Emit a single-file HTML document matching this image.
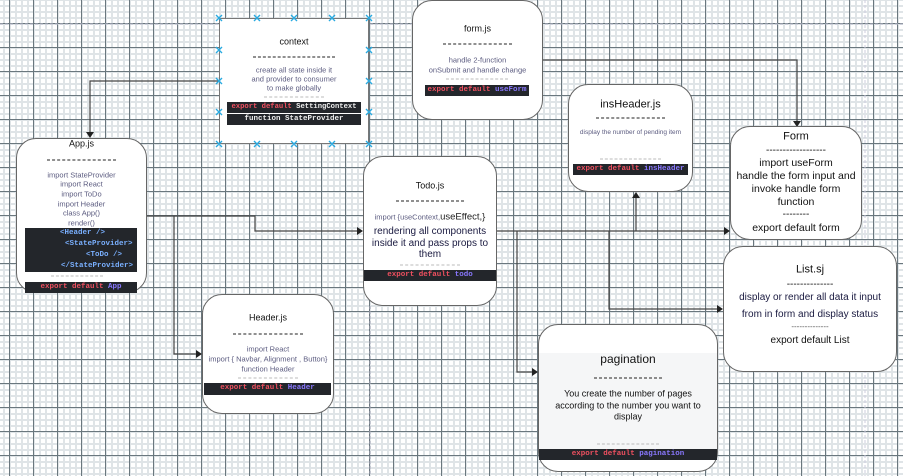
<!DOCTYPE html>
<html><head><meta charset="utf-8">
<style>
html,body{margin:0;padding:0}
body{width:903px;height:476px;position:relative;overflow:hidden;font-family:"Liberation Sans",sans-serif;
background-color:#fff;
background-image:
linear-gradient(to right,#6a777e 1px,transparent 1px),
linear-gradient(to bottom,#6a777e 1px,transparent 1px),
linear-gradient(to right,#dfe4e7 2px,transparent 2px),
linear-gradient(to bottom,#dfe4e7 2px,transparent 2px);
background-size:24px 24px,24px 24px,6px 6px,6px 6px;
background-position:9px 23px,9px 23px,9px 23px,9px 23px;}
.b{position:absolute;background:#fff;border:1.3px solid #666;box-sizing:border-box}
.r{border-radius:20px}
.t{position:absolute;text-align:center;white-space:nowrap;line-height:1;transform:translateY(-50%)}
.s{font-size:7.5px;color:#5c5c80}
.d{font-size:9px;color:#111}
.bar{position:absolute;background:#23262b;font-family:"Liberation Mono",monospace;font-size:7.5px;font-weight:bold;color:#f05060;text-align:center;white-space:nowrap;line-height:11px;overflow:hidden}
.p{color:#8a78ff}.w{color:#eee}.bl{color:#7ab0ff}
.dash{position:absolute;border-top:1px dashed #222;transform:translateY(-50%)}
.lt{border-top:1px dashed #bbb}
svg{position:absolute;left:0;top:0}
</style></head><body>
<svg width="903" height="476">
<line x1="370" y1="306" x2="370" y2="476" stroke="#aab" stroke-dasharray="3,2"/>
<line x1="865" y1="0" x2="865" y2="476" stroke="#ccd" stroke-dasharray="3,2"/>
<line x1="0" y1="24" x2="903" y2="24" stroke="#bbc" stroke-dasharray="3,2"/>
<g stroke="#444" stroke-width="1.2" fill="none">
<polyline points="219,81 90,81 90,134"/>
<polyline points="543,60 797,60 797,123"/>
<polyline points="147,216 255,216 255,231 359,231"/>
<polyline points="174,216 174,354 197,354"/>
<polyline points="497,231 726,231"/>
<polyline points="636,231 636,196"/>
<polyline points="517,231 517,372 534,372"/>
<polyline points="609,231 609,309 719,309"/>
</g>
<g fill="#222">
<polygon points="86,132 94,132 90,138"/>
<polygon points="793,121 801,121 797,127"/>
<polygon points="357,227 357,235 363,231"/>
<polygon points="196,350 196,358 202,354"/>
<polygon points="724,227 724,235 730,231"/>
<polygon points="632,198 640,198 636,192"/>
<polygon points="532,368 532,376 538,372"/>
<polygon points="717,305 717,313 723,309"/>
</g>
</svg>

<!-- context -->
<div class="b" style="left:219px;top:18px;width:150px;height:126px;border-color:#777"></div>
<svg width="903" height="476">
<g stroke="#29aae1" stroke-width="1.4">
<path d="M216,15l6,6M222,15l-6,6 M254,15l6,6M260,15l-6,6 M291,15l6,6M297,15l-6,6 M329,15l6,6M335,15l-6,6 M366,15l6,6M372,15l-6,6
M216,47l6,6M222,47l-6,6 M366,47l6,6M372,47l-6,6
M216,78l6,6M222,78l-6,6 M366,78l6,6M372,78l-6,6
M216,109l6,6M222,109l-6,6 M366,109l6,6M372,109l-6,6
M216,141l6,6M222,141l-6,6 M254,141l6,6M260,141l-6,6 M291,141l6,6M297,141l-6,6 M329,141l6,6M335,141l-6,6 M366,141l6,6M372,141l-6,6"/>
</g></svg>
<div class="t d" style="left:219px;width:150px;top:42px">context</div>
<div class="dash" style="left:253px;width:82px;top:57px"></div>
<div class="t s" style="left:219px;width:150px;top:70px">create all state inside it</div>
<div class="t s" style="left:219px;width:150px;top:79px">and provider to consumer</div>
<div class="t s" style="left:219px;width:150px;top:88px">to make globally</div>
<div class="dash lt" style="left:264px;width:60px;top:97px"></div>
<div class="bar" style="left:227px;width:134px;top:102px;height:11px;font-size:7.2px">export default <span class="w">SettingContext</span></div>
<div class="bar w" style="left:227px;width:134px;top:114px;height:11px;color:#eee">function StateProvider</div>

<!-- form.js -->
<div class="b r" style="left:412px;top:0px;width:131px;height:120px"></div>
<div class="t d" style="left:412px;width:131px;top:29px">form.js</div>
<div class="dash" style="left:443px;width:69px;top:44px"></div>
<div class="t s" style="left:412px;width:131px;top:60px">handle 2-function</div>
<div class="t s" style="left:412px;width:131px;top:70px">onSubmit and handle change</div>
<div class="dash lt" style="left:446px;width:62px;top:79px"></div>
<div class="bar" style="left:425px;width:104px;top:85px;height:11px">export default <span class="p">useForm</span></div>

<!-- App.js -->
<div class="b r" style="left:16px;top:138px;width:131px;height:155px"></div>
<div class="t d" style="left:16px;width:131px;top:144px">App.js</div>
<div class="dash" style="left:47px;width:69px;top:160px"></div>
<div class="t s" style="left:16px;width:131px;top:175px">import StateProvider</div>
<div class="t s" style="left:16px;width:131px;top:184px">import React</div>
<div class="t s" style="left:16px;width:131px;top:194px">import ToDo</div>
<div class="t s" style="left:16px;width:131px;top:204px">import Header</div>
<div class="t s" style="left:16px;width:131px;top:213px">class App()</div>
<div class="t s" style="left:16px;width:131px;top:223px">render()</div>
<div class="bar bl" style="left:25px;width:112px;top:228px;height:44px;text-align:left;color:#7ab0ff">
<div style="position:absolute;left:35px;top:0">&lt;Header /&gt;</div>
<div style="position:absolute;left:40px;top:11px">&lt;StateProvider&gt;</div>
<div style="position:absolute;left:61px;top:22px">&lt;ToDo /&gt;</div>
<div style="position:absolute;left:36px;top:33px">&lt;/StateProvider&gt;</div>
</div>
<div class="dash lt" style="left:51px;width:52px;top:276px"></div>
<div class="bar" style="left:25px;width:112px;top:282px;height:11px">export default <span class="p">App</span></div>

<!-- Todo.js -->
<div class="b r" style="left:363px;top:156px;width:134px;height:150px"></div>
<div class="t d" style="left:363px;width:134px;top:186px">Todo.js</div>
<div class="dash" style="left:396px;width:68px;top:201px"></div>
<div class="t s" style="left:363px;width:134px;top:217px">import {useContext,<span style="font-size:9.5px;color:#222">useEffect,}</span></div>
<div class="t" style="left:363px;width:134px;top:232px;font-size:10px;color:#1a1a40">rendering all components</div>
<div class="t" style="left:363px;width:134px;top:244px;font-size:10px;color:#1a1a40">inside it and pass props to</div>
<div class="t" style="left:363px;width:134px;top:255px;font-size:10px;color:#1a1a40">them</div>
<div class="dash lt" style="left:400px;width:60px;top:265px"></div>
<div class="bar" style="left:364px;width:132px;top:270px;height:11px">export default <span class="p">todo</span></div>

<!-- insHeader -->
<div class="b r" style="left:568px;top:84px;width:125px;height:108px"></div>
<div class="t" style="left:568px;width:125px;top:105px;font-size:11px;color:#111">insHeader.js</div>
<div class="dash" style="left:596px;width:69px;top:118px"></div>
<div class="t s" style="left:568px;width:125px;top:133px;font-size:6.5px">display the number of pending item</div>
<div class="dash lt" style="left:600px;width:61px;top:159px"></div>
<div class="bar" style="left:573px;width:115px;top:164px;height:11px">export default <span class="p">insHeader</span></div>

<!-- Form -->
<div class="b r" style="left:730px;top:126px;width:132px;height:114px"></div>
<div class="t" style="left:730px;width:132px;top:137px;font-size:11px;color:#111">Form</div>
<div class="t" style="left:730px;width:132px;top:151px;font-size:10px;color:#111">------------------</div>
<div class="t" style="left:730px;width:132px;top:163px;font-size:10.5px;color:#111">import useForm</div>
<div class="t" style="left:730px;width:132px;top:176px;font-size:10.5px;color:#111">handle the form input and</div>
<div class="t" style="left:730px;width:132px;top:189px;font-size:10.5px;color:#111">invoke handle form</div>
<div class="t" style="left:730px;width:132px;top:202px;font-size:10.5px;color:#111">function</div>
<div class="t" style="left:730px;width:132px;top:215px;font-size:10px;color:#111">--------</div>
<div class="t" style="left:730px;width:132px;top:228px;font-size:10.5px;color:#111">export default form</div>

<!-- List.sj -->
<div class="b r" style="left:723px;top:246px;width:174px;height:126px"></div>
<div class="t" style="left:723px;width:174px;top:270px;font-size:11px;color:#111">List.sj</div>
<div class="t" style="left:723px;width:174px;top:285px;font-size:10px;color:#111">--------------</div>
<div class="t" style="left:723px;width:174px;top:298px;font-size:10px;color:#1a1a40">display or render all data it input</div>
<div class="t" style="left:723px;width:174px;top:315px;font-size:10px;color:#1a1a40">from in form and display status</div>
<div class="t" style="left:723px;width:174px;top:327px;font-size:8px;color:#555">--------------</div>
<div class="t" style="left:723px;width:174px;top:341px;font-size:10px;color:#111">export default List</div>

<!-- Header.js -->
<div class="b r" style="left:202px;top:294px;width:132px;height:120px"></div>
<div class="t d" style="left:202px;width:132px;top:318px">Header.js</div>
<div class="dash" style="left:233px;width:70px;top:334px"></div>
<div class="t s" style="left:202px;width:132px;top:349px">import React</div>
<div class="t s" style="left:202px;width:132px;top:359px">import { Navbar, Alignment , Button}</div>
<div class="t s" style="left:202px;width:132px;top:369px">function Header</div>
<div class="dash lt" style="left:238px;width:60px;top:378px"></div>
<div class="bar" style="left:204px;width:127px;top:383px;height:12px">export default <span class="p">Header</span></div>

<!-- pagination -->
<div class="b r" style="left:538px;top:324px;width:180px;height:148px;overflow:hidden"><div style="position:absolute;left:0;right:0;top:28px;bottom:14px;background:#f5f6f7"></div></div>
<div class="t" style="left:538px;width:180px;top:359px;font-size:12px;color:#111">pagination</div>
<div class="dash" style="left:594px;width:68px;top:378px"></div>
<div class="t" style="left:538px;width:180px;top:394px;font-size:9px;color:#111">You create the number of pages</div>
<div class="t" style="left:538px;width:180px;top:406px;font-size:9px;color:#111">according to the number you want to</div>
<div class="t" style="left:538px;width:180px;top:417px;font-size:9px;color:#111">display</div>
<div class="dash lt" style="left:597px;width:62px;top:444px"></div>
<div class="bar" style="left:539px;width:178px;top:449px;height:11px">export default <span class="p">pagination</span></div>
</body></html>
